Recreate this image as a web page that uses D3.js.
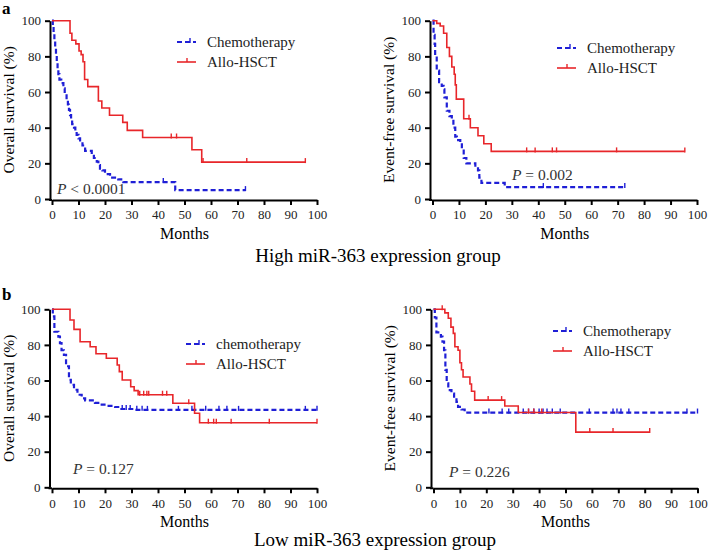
<!DOCTYPE html>
<html>
<head>
<meta charset="utf-8">
<script src="https://cdn.jsdelivr.net/npm/d3@7"></script>
<style>
  body { margin: 0; background: #fff; }
  svg { display: block; font-family: "Liberation Serif", "Times New Roman", serif; }
  .axis path, .axis line { stroke: #000; stroke-width: 2; }
  .axis text { font-size: 13px; fill: #222; font-family: "Liberation Serif", serif; }
</style>
</head>
<body>
<div id="chart_container"></div>
<script>
// tick values
var monthTicks = [0, 10, 20, 30, 40, 50, 60, 70, 80, 90, 100];
var pctTicks = [0, 20, 40, 60, 80, 100];

// series: [month, survival %] at each drop, plus censored months
// high miR-363, overall survival
var highOsChemo = [[0.3,97],[0.6,93],[0.9,89],[1.2,85],[1.5,81],[1.8,77],[2.1,73],[2.4,70],[2.8,67],[3.5,65],[4.3,62],[4.8,59],[5.5,56],[6.0,53],[6.4,50],[6.8,47],[7.2,45],[7.6,42],[8.3,40],[8.8,38],[9.3,36],[10,34],[10.6,32],[11.5,30],[12.5,27],[15,25],[15.8,23],[16.9,21],[17.5,19],[18.1,17],[19,16],[20,14],[21.9,12],[25,11],[26.9,9.5],[46.5,5]];
var highOsChemoCensored = [42, 73];
var highOsAllo = [[6.8,93],[7.5,89],[9,87],[10.2,83],[11,81],[11.7,77],[12.3,67],[13.5,63],[17.5,55],[18.8,51],[21.7,47],[26.7,43],[28.4,38.5],[34.2,34.5],[52.8,27.6],[56.5,20.7]];
var highOsAlloCensored = [45, 47, 57, 73.5, 95.6];

// high miR-363, event-free survival
var highEfsChemo = [[0.4,92],[0.8,87],[1.0,80],[1.6,72],[2.5,65.5],[3.5,63.5],[4.2,61.5],[4.5,57],[5.4,49.5],[6.4,46.5],[7.3,45],[7.9,40],[8.6,35],[9.2,33],[10.5,32],[11.1,28],[11.8,23],[12.8,20],[16.2,18],[17.2,16],[17.7,12],[18.5,9],[27.3,6.7]];
var highEfsChemoCensored = [41.9, 72.7];
var highEfsAllo = [[1.6,98.5],[2.9,97],[4.2,93],[5.4,85],[6.4,80],[7.3,74],[8.2,70],[8.6,64],[9.0,56],[11.8,45],[14.3,40],[17.2,35.5],[19.4,31],[22.2,26.7]];
var highEfsAlloCensored = [13.8, 35.6, 38.8, 45.3, 46.9, 69.6, 95.4];

// low miR-363, overall survival
var lowOsChemo = [[0.3,96],[0.9,87.4],[2.4,84.6],[3.0,81],[3.6,77],[4.5,74.4],[5.3,68],[6.4,60.4],[7.1,57.6],[8.3,54.8],[9.6,52],[11.2,50],[12.5,48.8],[16.2,47.4],[18.1,46.4],[20.6,45.8],[23.8,45.1],[25.7,44],[30.7,43.5]];
var lowOsChemoCensored = [26.5, 28, 29.5, 32, 34, 36, 47.7, 52.8, 58, 63, 66, 70.4, 95.6, 100];
var lowOsAllo = [[6.8,94],[8.3,88.7],[10.6,81.8],[14.4,79],[16.6,75],[20.5,72.5],[24.6,68.7],[25.4,65],[26.5,60.3],[29.7,56.5],[31,54.3],[32.5,52],[45.6,47.2],[53.8,41.6],[55.7,36.3]];
var lowOsAlloCensored = [33.1, 34.6, 35.8, 36.5, 41.7, 43.3, 51.6, 59, 61, 62, 67.6, 82, 100];

// low miR-363, event-free survival
var lowEfsChemo = [[0.5,95.4],[1.1,87],[2.8,84.6],[3.4,81.8],[4.0,77],[4.5,66],[5.0,58.4],[5.6,54.6],[6.8,52.7],[7.8,50],[8.7,48],[9.3,45.2],[10.6,43.7],[11.8,42]];
var lowEfsChemoCensored = [21, 26, 28.5, 34, 36, 38, 40, 41.5, 43, 45, 48, 59, 68, 69.5, 71, 74, 96, 100];
var lowEfsAllo = [[4.3,98],[5.6,95],[6.6,90],[7.5,86.5],[8.1,79],[9.3,77],[10,70],[10.6,66],[11.2,62],[13.8,58],[14.4,54],[15.6,49],[27,45.7],[32.1,42],[53.9,31]];
var lowEfsAlloCensored = [3.3, 20.7, 25.8, 36, 38, 41, 59.2, 68, 81.9];

var blue = "#1f1fd6", red = "#e8262a";

var svg = d3.select("#chart_container").append("svg")
    .attr("width", 708)
    .attr("height", 550);

// survival value at time t for a step list
function survAt(steps, t) {
    var s = 100;
    steps.forEach(function(d) { if (d[0] <= t) s = d[1]; });
    return s;
}

function stepPath(steps, end, x, y) {
    var p = "M" + x(0) + "," + y(100);
    steps.forEach(function(d) {
        p += "H" + x(d[0]) + "V" + y(d[1]);
    });
    p += "H" + x(end);
    return p;
}

function drawPanel(o) {
    var x = d3.scaleLinear().domain([0, 100]).range([o.x0, o.x1]);
    var y = d3.scaleLinear().domain([0, 100]).range([o.y0, o.y1]);
    var g = svg.append("g");

    // y axis
    g.append("g")
        .attr("class", "axis")
        .attr("transform", "translate(" + o.ax + ",0)")
        .call(d3.axisLeft(y).tickValues(pctTicks).tickSize(5).tickSizeOuter(0).tickPadding(4));
    // x axis
    g.append("g")
        .attr("class", "axis")
        .attr("transform", "translate(0," + (o.y0 + 1) + ")")
        .call(d3.axisBottom(x).tickValues(monthTicks).tickSize(5).tickSizeOuter(0).tickPadding(5));
    g.append("line")
        .attr("x1", o.ax - 1).attr("x2", o.x0)
        .attr("y1", o.y0 + 1).attr("y2", o.y0 + 1)
        .attr("stroke", "#000").attr("stroke-width", 2);

    // y title
    g.append("text")
        .attr("transform", "translate(" + (o.ax - 36) + "," + ((o.y0 + o.y1) / 2) + ") rotate(-90)")
        .attr("text-anchor", "middle")
        .style("font-size", "15.5px")
        .text(o.ylabel);
    // x title
    g.append("text")
        .attr("x", (o.x0 + o.x1) / 2).attr("y", o.y0 + 40)
        .attr("text-anchor", "middle")
        .style("font-size", "16px")
        .text("Months");

    // curves
    [[o.chemo, o.chemoCens, blue, true], [o.allo, o.alloCens, red, false]].forEach(function(c) {
        var end = d3.max(c[1]);
        g.append("path")
            .attr("d", stepPath(c[0], end, x, y))
            .attr("fill", "none")
            .attr("stroke", c[2])
            .attr("stroke-width", c[3] ? 2.2 : 1.6)
            .attr("stroke-dasharray", c[3] ? "5,3" : null);
        g.selectAll(null).data(c[1]).enter().append("line")
            .attr("x1", function(d) { return x(d); })
            .attr("x2", function(d) { return x(d); })
            .attr("y1", function(d) { return y(survAt(c[0], d)) - 4; })
            .attr("y2", function(d) { return y(survAt(c[0], d)) + 1; })
            .attr("stroke", c[2])
            .attr("stroke-width", 1.4);
    });

    // legend
    var lg = g.append("g").attr("transform", "translate(" + o.lx + "," + o.ly + ")");
    lg.append("line").attr("x1", 0).attr("x2", 19).attr("y1", 0).attr("y2", 0)
        .attr("stroke", blue).attr("stroke-width", 2.2).attr("stroke-dasharray", "5,3");
    lg.append("line").attr("x1", 13).attr("x2", 13).attr("y1", -4).attr("y2", 1)
        .attr("stroke", blue).attr("stroke-width", 1.4);
    lg.append("line").attr("x1", 0).attr("x2", 19).attr("y1", 20).attr("y2", 20)
        .attr("stroke", red).attr("stroke-width", 1.6);
    lg.append("line").attr("x1", 10).attr("x2", 10).attr("y1", 16).attr("y2", 20)
        .attr("stroke", red).attr("stroke-width", 1.4);
    lg.append("text").attr("x", 30).attr("y", 5).style("font-size", "15px").attr("fill", "#222").text(o.chemoName);
    lg.append("text").attr("x", 30).attr("y", 25).style("font-size", "15px").attr("fill", "#222").text("Allo-HSCT");

    // p value
    var pt = g.append("text").attr("x", o.px).attr("y", o.py).style("font-size", "15.5px").attr("fill", "#333");
    pt.append("tspan").style("font-style", "italic").text("P");
    pt.append("tspan").text(o.ptext);
}

drawPanel({ ax: 50, x0: 52, x1: 317, y0: 199, y1: 20.7, ylabel: "Overall survival (%)",
    chemo: highOsChemo, chemoCens: highOsChemoCensored, allo: highOsAllo, alloCens: highOsAlloCensored,
    lx: 177, ly: 42, chemoName: "Chemotherapy", px: 57, py: 194, ptext: " < 0.0001" });
drawPanel({ ax: 430, x0: 432.5, x1: 697, y0: 199, y1: 20.7, ylabel: "Event-free survival (%)",
    chemo: highEfsChemo, chemoCens: highEfsChemoCensored, allo: highEfsAllo, alloCens: highEfsAlloCensored,
    lx: 557, ly: 48, chemoName: "Chemotherapy", px: 512, py: 180, ptext: " = 0.002" });
drawPanel({ ax: 49.5, x0: 52, x1: 317, y0: 487.3, y1: 309.3, ylabel: "Overall survival (%)",
    chemo: lowOsChemo, chemoCens: lowOsChemoCensored, allo: lowOsAllo, alloCens: lowOsAlloCensored,
    lx: 186, ly: 344, chemoName: "chemotherapy", px: 73, py: 474, ptext: " = 0.127" });
drawPanel({ ax: 431, x0: 433.5, x1: 697.5, y0: 487.3, y1: 309.3, ylabel: "Event-free survival (%)",
    chemo: lowEfsChemo, chemoCens: lowEfsChemoCensored, allo: lowEfsAllo, alloCens: lowEfsAlloCensored,
    lx: 553, ly: 331, chemoName: "Chemotherapy", px: 449, py: 477, ptext: " = 0.226" });

// panel letters and group titles
svg.append("text").attr("x", 2).attr("y", 14).style("font-size", "17px").style("font-weight", "bold").text("a");
svg.append("text").attr("x", 2).attr("y", 300).style("font-size", "17px").style("font-weight", "bold").text("b");
svg.append("text").attr("x", 378).attr("y", 262).attr("text-anchor", "middle").style("font-size", "19px")
    .text("High miR-363 expression group");
svg.append("text").attr("x", 375).attr("y", 546).attr("text-anchor", "middle").style("font-size", "19px")
    .text("Low miR-363 expression group");
</script>
</body>
</html>
